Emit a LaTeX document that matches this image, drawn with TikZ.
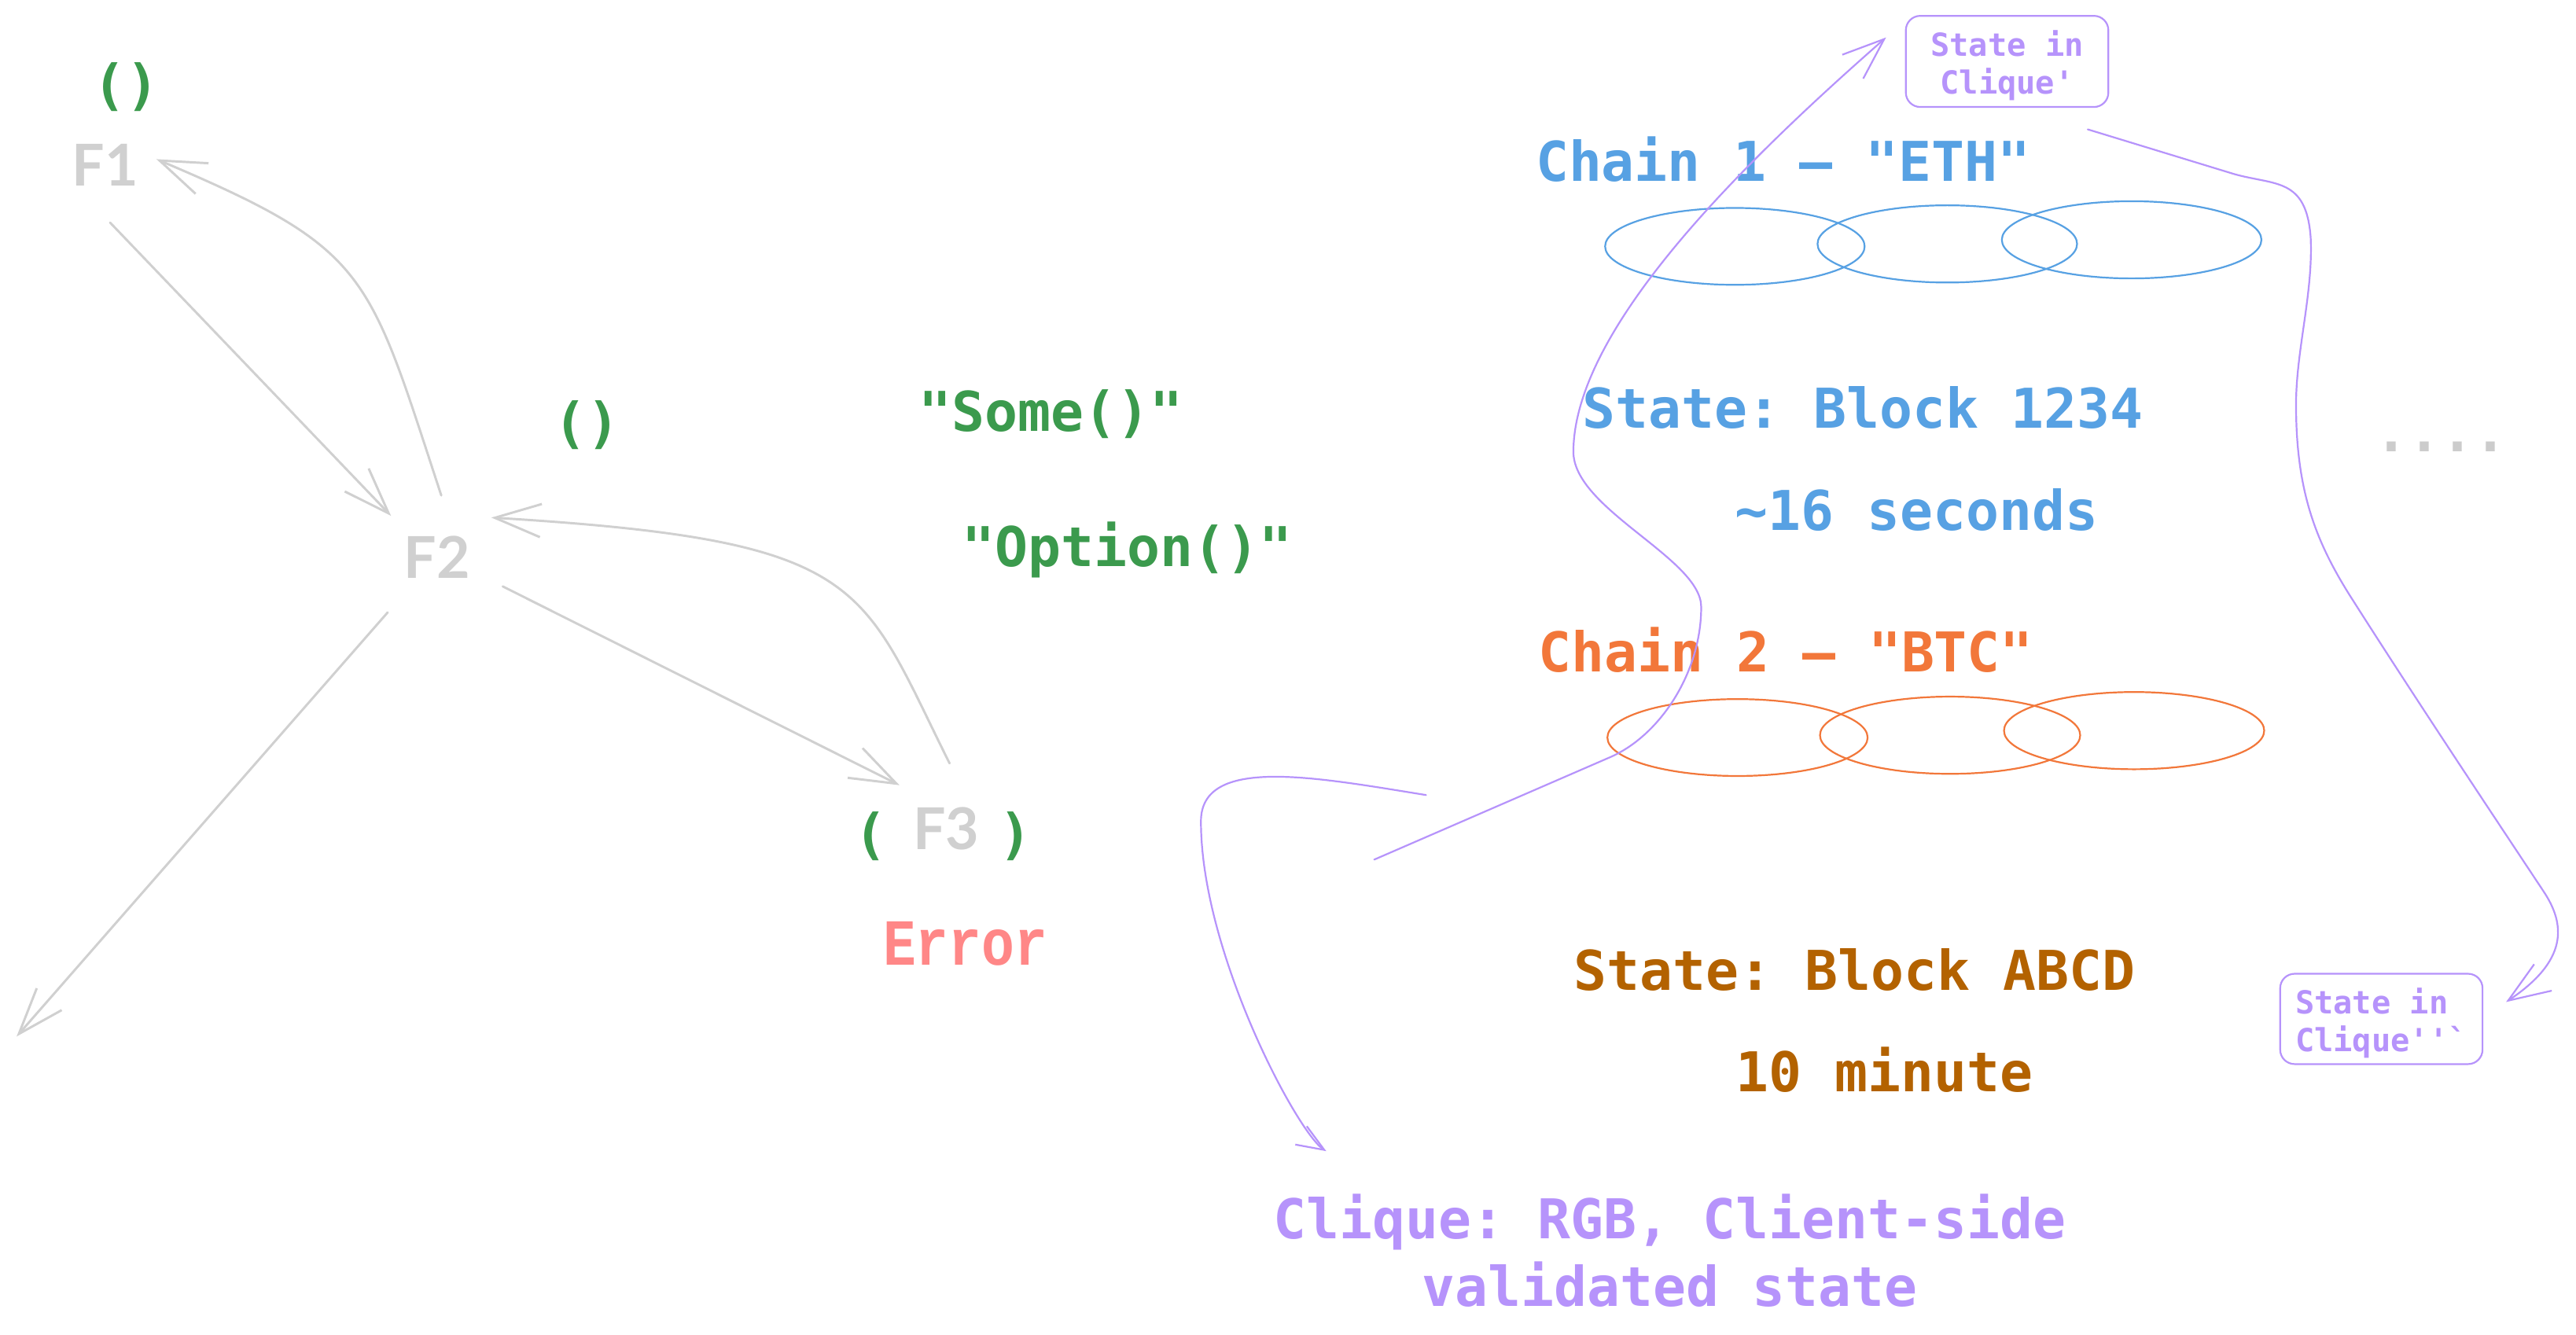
\documentclass[tikz,border=0pt]{standalone}
\usepackage{fontspec}
\usepackage{graphicx}
\usetikzlibrary{arrows.meta}
\setmonofont{DejaVu Sans Mono}
\newfontfamily\labelfont{Lato}
\newfontfamily\errfont{Liberation Mono}
\definecolor{cgray}{HTML}{D0D0D0}
\definecolor{cgreen}{HTML}{3B9A4D}
\definecolor{cblue}{HTML}{57A1E3}
\definecolor{corange}{HTML}{F2773A}
\definecolor{cbrown}{HTML}{B36200}
\definecolor{cpurple}{HTML}{B693FB}
\definecolor{cerror}{HTML}{FF8787}
\begin{document}
\begin{tikzpicture}[x=0.02cm, y=-0.02cm,
  mtext/.style={font=\ttfamily\bfseries\fontsize{19pt}{23.5pt}\selectfont, inner sep=0pt, anchor=base},
  ftext/.style={font=\labelfont\bfseries\fontsize{20pt}{24pt}\selectfont, text=cgray, inner sep=0pt, anchor=base},
  boxtext/.style={font=\ttfamily\bfseries\fontsize{11pt}{13pt}\selectfont, text=cpurple, draw=cpurple, line width=0.6pt, rounded corners=5pt, inner sep=0pt},
  gline/.style={draw=cgray, line width=0.8pt, line cap=round},
  garrow/.style={gline, -{Straight Barb[length=16pt,width=11.5pt]}},
  pline/.style={draw=cpurple, line width=0.6pt, line cap=round},
  parrow/.style={pline, -{Straight Barb[length=14.5pt,width=11pt]}},
  sparrow/.style={pline, -{Straight Barb[length=9.5pt,width=7.5pt]}},
  ell/.style={line width=0.6pt}]
\path[use as bounding box, fill=white] (0,0) rectangle (1568,812.7);

% left graph
\node[mtext, text=cgreen] (unitA) at (77,63.5) {()};
\node[ftext] (F1) at (64,113) {F1};
\node[mtext, text=cgreen] (unitB) at (357.5,269) {()};
\node[ftext] (F2) at (266,352) {F2};
\node[mtext, text=cgreen] (some) at (639.6,262.5) {"Some()"};
\node[mtext, text=cgreen] (option) at (686,344.7) {"Option()"};
\node[mtext, text=cgreen] (lpar) at (530,519.6) {(};
\node[ftext] (F3) at (576,517) {F3};
\node[mtext, text=cgreen] (rpar) at (618,519.6) {)};
\node[font=\errfont\bfseries\fontsize{19pt}{23pt}\selectfont, text=cerror, inner sep=0pt, anchor=base] (err) at (587.6,587.5) {\scalebox{1}[1.2]{Error}};

\coordinate (g12s) at ([shift={(3,22.5)}]F1.base);
\coordinate (g12e) at ([shift={(-28,-38)}]F2.base);
\coordinate (g21s) at ([shift={(2.6,-50.4)}]F2.base);
\coordinate (g21e) at ([shift={(31.2,-16.1)}]F1.base);
\coordinate (g23s) at ([shift={(40,5)}]F2.base);
\coordinate (g23e) at ([shift={(-28.5,-39)}]F3.base);
\coordinate (g32s) at ([shift={(2,-52.3)}]F3.base);
\coordinate (g32e) at ([shift={(33.1,-36.9)}]F2.base);
\coordinate (g2ls) at ([shift={(-30,20.8)}]F2.base);
\coordinate (g2le) at (10.1,631);

\draw[garrow] (g12s) -- (g12e);
\draw[garrow] (g21s) .. controls (223.6,164.6) and (225.2,152) .. (g21e);
\draw[garrow] (g23s) -- (g23e);
\draw[garrow] (g32s) .. controls (523,354.7) and (529,329) .. (g32e);
\draw[garrow] (g2ls) -- (g2le);

% chains
\node[mtext, text=cblue] (chain1) at (1085.5,110.2) {Chain 1 – "ETH"};
\draw[cblue, ell] (1056,150) ellipse [x radius=79, y radius=23.4];
\draw[cblue, ell] (1185.3,148.5) ellipse [x radius=79, y radius=23.5];
\draw[cblue, ell] (1297.5,146) ellipse [x radius=79, y radius=23.5];
\node[mtext, text=cblue] (state1) at (1133.9,260.4) {State: Block 1234};
\node[mtext, text=cblue] (time1) at (1166.5,323) {\char126 16 seconds};
\node[mtext, text=gray!40] (dots) at (1486,275) {....};

\node[mtext, text=corange] (chain2) at (1087,409) {Chain 2 – "BTC"};
\draw[corange, ell] (1057.6,449) ellipse [x radius=79.2, y radius=23.4];
\draw[corange, ell] (1187,447.6) ellipse [x radius=79.2, y radius=23.5];
\draw[corange, ell] (1299,444.8) ellipse [x radius=79.2, y radius=23.5];
\node[mtext, text=cbrown] (state2) at (1128.8,603) {State: Block ABCD};
\node[mtext, text=cbrown] (time2) at (1147,664.5) {10 minute};

\node[mtext, text=cpurple, align=center] (clique) at (1016.5,795.3) {Clique: RGB, Client-side\\validated state};

\node[boxtext, align=center, minimum width=2.466cm, minimum height=1.11cm] (tbox) at (1221.7,37.4) {\rule{0pt}{11.8pt}State in\\Clique'};
\node[boxtext, align=left, minimum width=2.464cm, minimum height=1.10cm] (bbox) at (1449.5,620.3) {\rule{0pt}{11.8pt}State in\\Clique''`};

% purple connectors
\coordinate (cA0) at (836.5,523.3);
\coordinate (cA1) at ([shift={(-11.5,-14.6)}]tbox.west);
\coordinate (cB0) at (868,484);
\coordinate (cB1) at ([shift={(-209.2,-94.5)}]clique.base);
\coordinate (cC0) at ([shift={(49.1,13.1)}]tbox.south);
\coordinate (cC1) at ([shift={(13.8,-10.3)}]bbox.east);

\draw[parrow] (cA0) -- (980,461)
  .. controls (1010,448) and (1035.5,410) .. (1035.5,369.5)
  .. controls (1035.5,340) and (957.7,310) .. (957.7,275)
  .. controls (958,200) and (1060,100) .. (cA1);
\draw[sparrow] (cB0) .. controls (800,473) and (731,460) .. (731,500)
  .. controls (731,580) and (790,690) .. (cB1);
\draw[parrow] (cC0) -- (1360,106)
  .. controls (1385,113) and (1404,108) .. (1406.5,145)
  .. controls (1408,180) and (1397,215) .. (1397.6,249.3)
  .. controls (1398,300) and (1410,330) .. (1430,362)
  .. controls (1470,425) and (1520,500) .. (1548,542.3)
  .. controls (1562,563) and (1563,585) .. (cC1);
\end{tikzpicture}
\end{document}
